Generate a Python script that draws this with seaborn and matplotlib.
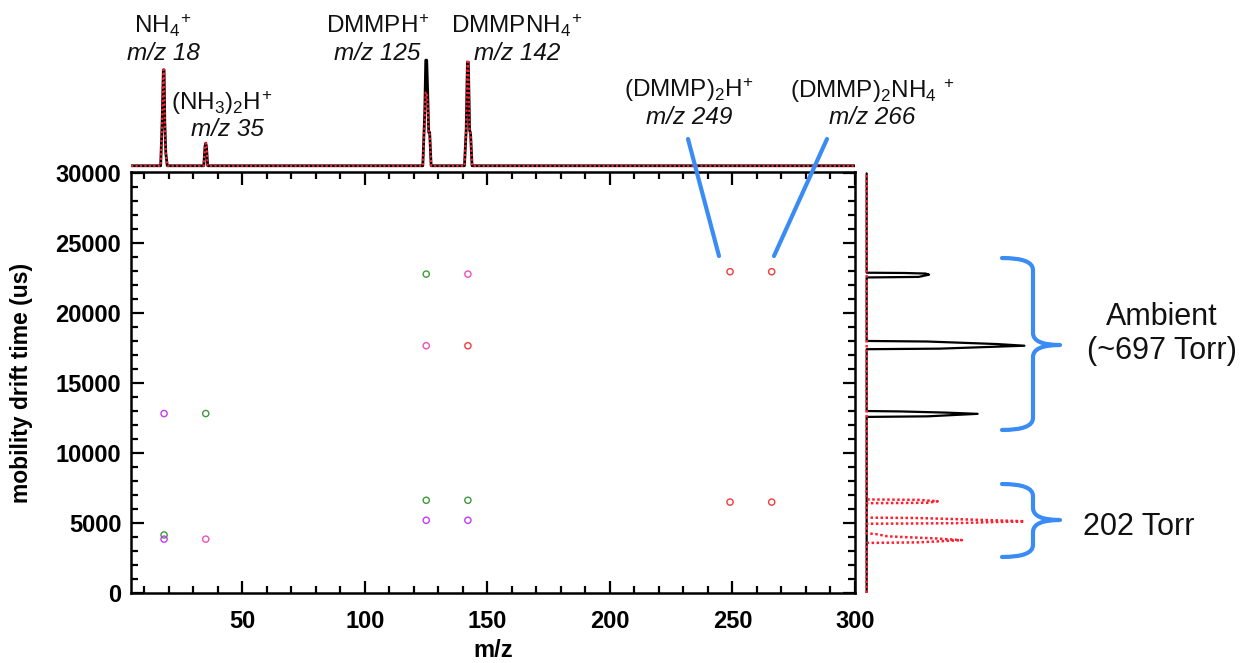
import matplotlib
matplotlib.use("Agg")
import matplotlib.pyplot as plt
import seaborn as sns
from matplotlib.path import Path
from matplotlib.patches import PathPatch

# top mass spectrum (summed over drift time)
top_mz = [4.5, 16.6, 17.2, 17.7, 18.0, 18.3, 18.7, 19.3,
          34.2, 34.7, 35.0, 35.3, 35.8,
          123.6, 124.4, 124.8, 125.2, 125.6, 126.0, 126.4, 127.0,
          140.6, 141.3, 141.8, 142.2, 142.7, 143.1, 143.7, 300]
top_ambient = [0, 0, 0.40, 0.89, 0.89, 0.40, 0.12, 0,
               0, 0.18, 0.21, 0.18, 0,
               0, 0.50, 0.98, 0.98, 0.68, 0.31, 0.31, 0,
               0, 0.33, 0.96, 0.96, 0.33, 0.30, 0, 0]
top_low = [0, 0, 0.40, 0.89, 0.89, 0.40, 0.12, 0,
           0, 0.18, 0.21, 0.18, 0,
           0, 0.45, 0.68, 0.68, 0.55, 0.31, 0.31, 0,
           0, 0.33, 0.98, 0.98, 0.33, 0.30, 0, 0]

# side drift spectra (summed over m/z)
amb_drift = [0, 12590, 12630, 12810, 12900, 12980, 13010,
             17430, 17470, 17680, 17800, 17980, 18020,
             22560, 22600, 22760, 22840, 22880, 22900, 30000]
amb_int = [0, 0, 0.35, 0.64, 0.45, 0.20, 0,
           0, 0.42, 0.91, 0.75, 0.35, 0,
           0, 0.30, 0.36, 0.34, 0.22, 0, 0]
low_drift = [0, 3580, 3620, 3780, 3900, 4050, 4150, 4220, 4260,
             4950, 4990, 5130, 5250, 5360, 5390,
             6420, 6450, 6560, 6660, 6690, 30000]
low_int = [0, 0, 0.30, 0.55, 0.40, 0.12, 0.08, 0.05, 0,
           0, 0.50, 0.91, 0.60, 0.30, 0,
           0, 0.35, 0.41, 0.30, 0, 0]

# ion spots in the 2D map
spot_mz = [18, 35, 18, 18, 35, 125, 142, 125, 142, 125, 142, 125, 142,
           249, 266, 249, 266]
spot_drift = [12830, 12830, 4150, 3850, 3850, 22800, 22800, 17680, 17680,
              6630, 6630, 5200, 5200, 22970, 22970, 6500, 6500]
spot_tone = ["violet", "green", "green", "violet", "pink", "green", "pink",
             "pink", "red", "green", "green", "violet", "violet",
             "red", "red", "red", "red"]
tone_colors = {"violet": "#c23cf5", "green": "#3f9a3a", "pink": "#f04fb8",
               "red": "#f23b3b"}

x_ticks = [50, 100, 150, 200, 250, 300]
y_ticks = [0, 5000, 10000, 15000, 20000, 25000, 30000]

W, H = 1244, 663
BLUE = "#3a8cf4"


def px_box(left, top, right, bottom):
    return [left / W, 1 - bottom / H, (right - left) / W, (bottom - top) / H]


def brace(x0, x1, xtip, ytop, ymid, ybot, r=12):
    verts = [(x0, ytop), (x1, ytop), (x1, ytop + r),
             (x1, ymid - r), (x1, ymid), (xtip, ymid),
             (x1, ymid), (x1, ymid + r),
             (x1, ybot - r), (x1, ybot), (x0, ybot)]
    codes = [Path.MOVETO, Path.CURVE3, Path.CURVE3,
             Path.LINETO, Path.CURVE3, Path.CURVE3,
             Path.CURVE3, Path.CURVE3,
             Path.LINETO, Path.CURVE3, Path.CURVE3]
    return PathPatch(Path(verts, codes), fill=False, edgecolor=BLUE,
                     lw=3, capstyle="round", joinstyle="round")


sns.set_theme(style="ticks")
plt.rcParams["font.family"] = ["Liberation Sans", "DejaVu Sans"]
plt.rcParams.update({
    "mathtext.fontset": "custom",
    "mathtext.rm": "Liberation Sans",
    "mathtext.it": "Liberation Sans:italic",
    "mathtext.bf": "Liberation Sans:bold",
    "text.color": "black",
    "axes.labelcolor": "black",
    "xtick.color": "black",
    "ytick.color": "black",
})

fig = plt.figure(figsize=(W / 100, H / 100), dpi=100)
ax = fig.add_axes(px_box(131, 172, 855, 593))
ax_top = fig.add_axes(px_box(131, 58, 855, 169))
ax_side = fig.add_axes(px_box(858, 172, 1040, 593))

# main 2D map
sns.scatterplot(x=spot_mz, y=spot_drift, hue=spot_tone, palette=tone_colors,
                s=20, marker="o", legend=False, ax=ax)
pts = ax.collections[-1]
pts.set_edgecolors(pts.get_facecolors())
pts.set_facecolors("none")
pts.set_linewidths(1.0)

ax.set_xlim(4.5, 300)
ax.set_ylim(0, 30100)
ax.set_xticks(x_ticks, labels=[str(v) for v in x_ticks],
              fontsize=17, fontweight="bold")
ax.set_xticks(range(10, 300, 10), minor=True)
ax.set_yticks(y_ticks, labels=[str(v) for v in y_ticks],
              fontsize=17, fontweight="bold")
ax.set_yticks(range(0, 30001, 1000), minor=True)
ax.tick_params(which="both", direction="in", top=True, right=True,
               width=1.6, color="black")
ax.tick_params(which="major", length=9)
ax.tick_params(which="minor", length=5)
ax.tick_params(axis="x", pad=12)
ax.tick_params(axis="y", pad=7)
for sp in ax.spines.values():
    sp.set_linewidth(1.8)
    sp.set_color("black")
ax.set_xlabel("m/z", fontsize=17, fontweight="bold")
ax.set_ylabel("mobility drift time (us)", fontsize=16.5, fontweight="bold")
ax.xaxis.set_label_coords(0.5, -0.11)
ax.yaxis.set_label_coords(-0.135, 0.5)

# top spectrum
sns.lineplot(x=top_mz, y=top_ambient, sort=False, estimator=None,
             color="black", lw=2, ax=ax_top)
sns.lineplot(x=top_mz, y=top_low, sort=False, estimator=None,
             color="#ff1f2f", lw=1.6, linestyle=(0, (1, 1)), ax=ax_top)
ax_top.set_xlim(4.5, 300)
ax_top.set_ylim(-0.03, 1.0)
ax_top.axis("off")

# side drift spectrum
sns.lineplot(x=amb_int, y=amb_drift, sort=False, estimator=None,
             color="black", lw=1.6, ax=ax_side)
sns.lineplot(x=low_int, y=low_drift, sort=False, estimator=None,
             color="#ff1f2f", lw=1.8, linestyle=(0, (1, 1)), ax=ax_side)
ax_side.set_xlim(-0.05, 1.0)
ax_side.set_ylim(0, 30100)
ax_side.axis("off")

# annotations on a full-figure overlay in pixel units
ov = fig.add_axes([0, 0, 1, 1])
ov.set_xlim(0, W)
ov.set_ylim(H, 0)
ov.axis("off")

labels = [
    (163, 33, r"$\mathrm{NH_4{}^{\!+}}$", "normal"),
    (163, 60, "m/z 18", "italic"),
    (222, 110, r"$\mathrm{(NH_3)_2H^{\!+}}$", "normal"),
    (227, 136, "m/z 35", "italic"),
    (378, 33, r"$\mathrm{DMMPH^{\!+}}$", "normal"),
    (377, 60, "m/z 125", "italic"),
    (517, 33, r"$\mathrm{DMMPNH_4{}^{\!+}}$", "normal"),
    (517, 60, "m/z 142", "italic"),
    (689, 97, r"$\mathrm{(DMMP)_2H^{\!+}}$", "normal"),
    (689, 124, "m/z 249", "italic"),
    (872, 98, r"$\mathrm{(DMMP)_2NH_4\ {}^{\!+}}$", "normal"),
    (872, 124, "m/z 266", "italic"),
]
for x, y, s, style in labels:
    ov.text(x, y, s, ha="center", va="baseline", fontsize=17.5,
            style=style, color="#111111")

ov.plot([688, 719], [139, 256], color=BLUE, lw=3, solid_capstyle="round")
ov.plot([827, 774], [139, 256], color=BLUE, lw=3, solid_capstyle="round")

ov.add_patch(brace(1002, 1033, 1060, 258, 345, 430))
ov.add_patch(brace(1002, 1033, 1060, 484, 520, 557))

ov.text(1162, 325, "Ambient", ha="center", va="baseline", fontsize=22,
        color="#111111")
ov.text(1162, 359, "(~697 Torr)", ha="center", va="baseline", fontsize=22,
        color="#111111")
ov.text(1083, 535, "202 Torr", ha="left", va="baseline", fontsize=22,
        color="#111111")

fig.savefig("out.png", dpi=100)
